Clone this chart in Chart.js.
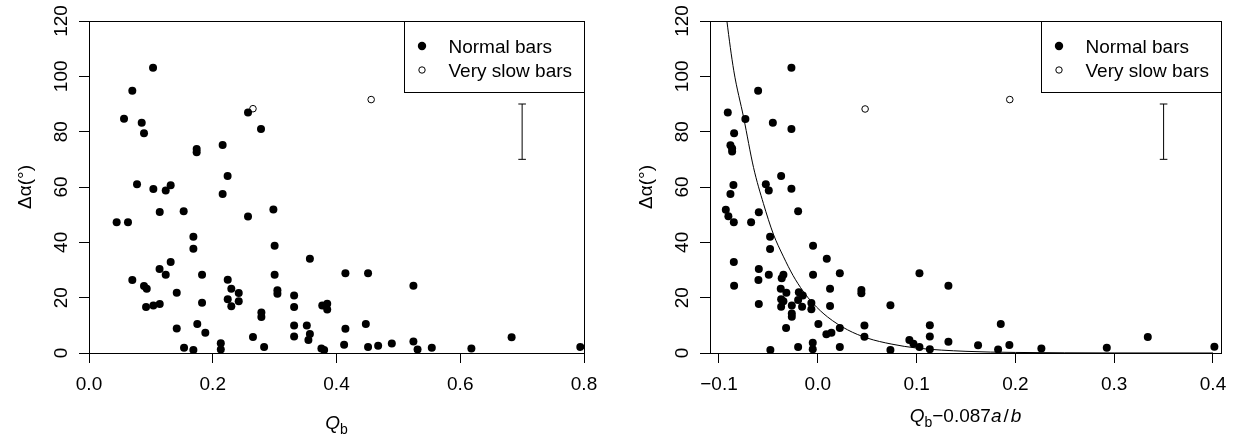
<!DOCTYPE html>
<html>
<head>
<meta charset="utf-8">
<script src="https://cdn.jsdelivr.net/npm/chart.js@4.4.0/dist/chart.umd.min.js"></script>
<style>
  body { margin: 0; background: #fff; }
  .panel { position: absolute; top: 0; width: 617px; height: 436px; }
</style>
</head>
<body>
<div class="panel" style="left:0"><canvas id="chartQb"></canvas></div>
<div class="panel" style="left:617px"><canvas id="chartAdj"></canvas></div>
<script>
// left panel: dalpha against Q_b
const qbNormal = [
  0.1035, 0.070, 0.0566, 0.0852, 0.0889, 0.0776, 0.104, 0.124, 0.132, 0.174,
  0.174, 0.216, 0.224, 0.216, 0.257, 0.278, 0.1143, 0.153, 0.257, 0.298,
  0.0447, 0.063, 0.1687, 0.1687, 0.300, 0.357, 0.132, 0.114, 0.124, 0.1827,
  0.300, 0.4144, 0.451, 0.5243, 0.070, 0.2242, 0.0889, 0.0933, 0.230, 0.242,
  0.3045, 0.3045, 0.1418, 0.2242, 0.242, 0.230, 0.1827, 0.0922, 0.104, 0.1143,
  0.3315, 0.3315, 0.377, 0.385, 0.385, 0.2786, 0.2786, 0.1418, 0.175, 0.188,
  0.3315, 0.352, 0.357, 0.3546, 0.3315, 0.4144, 0.4474, 0.265, 0.283, 0.213,
  0.213, 0.1536, 0.1687, 0.3756, 0.380, 0.4123, 0.451, 0.4673, 0.4894, 0.5243,
  0.531, 0.554, 0.618, 0.683, 0.794
];
const dalphaNormalA = [
  103.1, 94.8, 84.7, 83.2, 79.4, 61.0, 59.3, 58.7, 60.6, 73.7,
  72.6, 75.2, 64.0, 57.5, 86.9, 81.0, 51.0, 51.2, 49.3, 51.9,
  47.3, 47.3, 42.0, 37.7, 38.8, 34.1, 32.9, 30.4, 28.3, 28.3,
  28.3, 28.8, 28.8, 24.3, 26.4, 26.5, 24.2, 23.2, 23.2, 21.7,
  22.7, 21.4, 21.8, 19.4, 18.7, 16.9, 18.2, 16.6, 17.2, 17.7,
  20.8, 16.6, 17.2, 17.8, 15.7, 14.6, 13.0, 8.9, 10.5, 7.3,
  9.9, 9.9, 6.9, 4.7, 6.0, 8.8, 10.5, 5.8, 2.2, 3.5,
  1.3, 1.9, 1.1, 1.6, 1.1, 3.0, 2.2, 2.6, 3.4, 4.2,
  1.3, 1.9, 1.6, 5.7, 2.2
];
const qbSlow = [0.265, 0.456];
const dalphaSlowA = [88.3, 91.6];

// right panel: dalpha against Q_b - 0.087 a/b
const qbAdjNormal = [
  -0.0267, -0.0604, -0.0911, -0.0733, -0.0455, -0.0267, -0.0847, -0.0884, -0.0867, -0.0867,
  -0.0371, -0.0854, -0.0526, -0.0496, -0.0267, -0.0884, -0.0931, -0.0905, -0.085, -0.0675,
  -0.0597, -0.0199, -0.0483, -0.0483, -0.0048, 0.0091, -0.085, -0.0597, -0.0496, -0.0348,
  -0.0365, -0.0048, 0.0223, -0.0601, -0.0847, -0.0375, -0.0318, -0.0192, -0.0152, 0.0124,
  0.0441, 0.0441, -0.0371, -0.0199, -0.0348, -0.0597, -0.0065, -0.0263, -0.0371, -0.0159,
  -0.0065, 0.0124, 0.0735, -0.0263, -0.0263, 0.0006, -0.0321, 0.0223, 0.0472, 0.0472,
  0.0087, 0.0138, -0.0051, -0.0051, -0.0199, 0.0223, -0.048, 0.0735, 0.0927, 0.0968,
  0.1029, 0.1029, 0.1322, 0.1134, 0.1134, 0.1134, 0.1322, 0.1852, 0.1622, 0.1825,
  0.1939, 0.2263, 0.2925, 0.334, 0.4014
];
const dalphaNormalB = [
  103.1, 94.8, 86.9, 84.6, 83.2, 81.0, 79.4, 75.1, 73.9, 72.8,
  64.0, 60.7, 61.0, 58.7, 59.4, 57.5, 51.8, 49.4, 47.3, 47.3,
  50.9, 51.2, 42.0, 37.6, 38.8, 34.1, 32.9, 30.4, 28.3, 28.3,
  27.0, 28.3, 28.8, 26.4, 24.3, 23.2, 21.8, 22.0, 20.8, 23.2,
  22.8, 21.6, 19.4, 19.2, 18.7, 17.7, 18.1, 17.2, 16.7, 16.7,
  15.8, 17.0, 17.3, 14.3, 13.1, 10.5, 9.0, 9.0, 9.9, 5.9,
  6.8, 7.3, 3.7, 1.4, 2.2, 2.2, 1.1, 1.1, 4.7, 3.3,
  2.2, 28.8, 24.3, 10.0, 6.0, 1.4, 4.1, 10.5, 2.8, 1.3,
  2.9, 1.6, 1.9, 5.8, 2.3
];
const qbAdjSlow = [0.0479, 0.1943];
const dalphaSlowB = [88.2, 91.6];

// fitted curve
const curveX = [-0.1, -0.092, -0.085, -0.075, -0.065, -0.055, -0.045, -0.035, -0.025, -0.015,
  -0.005, 0.01, 0.03, 0.05, 0.075, 0.1, 0.15, 0.2, 0.25, 0.3, 0.4];
const curveY = [145, 120, 102, 85, 67, 54, 43, 35, 28, 22.4,
  18, 13, 8.4, 5.4, 3.2, 1.8, 0.6, 0.2, 0.07, 0.02, 0.0];

// error bar (typical uncertainty)
const errYRange = [70, 90];
const errXA = 0.7;
const errXB = 0.35;

const yTicks = [0, 20, 40, 60, 80, 100, 120];
const xTicksA = [0, 0.2, 0.4, 0.6, 0.8];
const xTickLabelsA = ["0.0", "0.2", "0.4", "0.6", "0.8"];
const xTicksB = [-0.1, 0, 0.1, 0.2, 0.3, 0.4];
const xTickLabelsB = ["\u22120.1", "0.0", "0.1", "0.2", "0.3", "0.4"];
const legendLabels = ["Normal bars", "Very slow bars"];

const FONT = "'Liberation Sans', Arial, sans-serif";
const FS = 19;

function pts(xs, ys) {
  return xs.map((x, i) => ({ x: x, y: ys[i] }));
}

function fontOf(p) {
  return (p.italic ? "italic " : "") + (p.sub ? 14 : FS) + "px " + FONT;
}

function drawParts(ctx, parts, cx, base) {
  const widths = parts.map((p) => {
    ctx.font = fontOf(p);
    return ctx.measureText(p.t).width + (p.pad || 0) * 2;
  });
  let x = cx - widths.reduce((a, b) => a + b, 0) / 2;
  ctx.textAlign = "left";
  ctx.textBaseline = "alphabetic";
  parts.forEach((p, i) => {
    ctx.font = fontOf(p);
    ctx.fillText(p.t, x + (p.pad || 0), base + (p.sub ? 5 : 0));
    x += widths[i];
  });
}

const rDecor = {
  id: "rDecor",
  afterDraw(chart, args, o) {
    const ctx = chart.ctx;
    const a = chart.chartArea;
    const xs = chart.scales.x;
    const ys = chart.scales.y;
    ctx.save();
    ctx.strokeStyle = "#000";
    ctx.fillStyle = "#000";
    ctx.lineWidth = 1;
    ctx.strokeRect(Math.round(a.left) + 0.5, Math.round(a.top) + 0.5,
      Math.round(a.right - a.left), Math.round(a.bottom - a.top));

    // tick labels
    ctx.font = FS + "px " + FONT;
    ctx.textAlign = "center";
    ctx.textBaseline = "alphabetic";
    o.xTicks.forEach((v, i) => {
      ctx.fillText(o.xLabels[i], xs.getPixelForValue(v), a.bottom + 37);
    });
    yTicks.forEach((v) => {
      ctx.save();
      ctx.translate(a.left - 22, ys.getPixelForValue(v));
      ctx.rotate(-Math.PI / 2);
      ctx.fillText(String(v), 0, 0);
      ctx.restore();
    });

    // axis titles
    ctx.save();
    ctx.translate(a.left - 58, (a.top + a.bottom) / 2);
    ctx.rotate(-Math.PI / 2);
    ctx.textAlign = "center";
    ctx.fillText("\u0394\u03b1(\u00b0)", 0, 0);
    ctx.restore();
    drawParts(ctx, o.xTitle, (a.left + a.right) / 2, o.xTitleBase);

    // legend
    const lw = 180, lh = 71;
    const lx = Math.round(a.right - lw), ly = Math.round(a.top);
    ctx.fillStyle = "#fff";
    ctx.fillRect(lx, ly, lw, lh);
    ctx.strokeRect(lx + 0.5, ly + 0.5, lw, lh);
    ctx.fillStyle = "#000";
    ctx.beginPath();
    ctx.arc(lx + 18, ly + 25, 4.2, 0, Math.PI * 2);
    ctx.fill();
    ctx.beginPath();
    ctx.arc(lx + 18, ly + 49, 3.2, 0, Math.PI * 2);
    ctx.stroke();
    ctx.font = FS + "px " + FONT;
    ctx.textAlign = "left";
    ctx.fillText(legendLabels[0], lx + 44.5, ly + 25 + 7);
    ctx.fillText(legendLabels[1], lx + 44.5, ly + 49 + 7);
    ctx.restore();
  }
};

function makePanel(id, cfg) {
  const datasets = [
    {
      label: legendLabels[0],
      data: pts(cfg.normX, cfg.normY),
      pointRadius: 4,
      pointBackgroundColor: "#000",
      pointBorderWidth: 0,
      showLine: false
    },
    {
      label: legendLabels[1],
      data: pts(cfg.slowX, cfg.slowY),
      pointRadius: 3.3,
      pointBackgroundColor: "#fff",
      pointBorderColor: "#000",
      pointBorderWidth: 1,
      showLine: false
    },
    {
      type: "line",
      data: errYRange.map((y) => ({ x: cfg.errX, y: y })),
      borderColor: "#000",
      borderWidth: 1,
      pointStyle: "line",
      pointRadius: 3.8,
      pointBorderWidth: 1,
      pointBorderColor: "#000"
    }
  ];
  if (cfg.curve) {
    datasets.push({
      type: "line",
      data: pts(curveX, curveY),
      borderColor: "#000",
      borderWidth: 1,
      pointRadius: 0,
      cubicInterpolationMode: "monotone"
    });
  }
  return new Chart(document.getElementById(id), {
    type: "scatter",
    data: { datasets: datasets },
    options: {
      responsive: true,
      maintainAspectRatio: false,
      animation: false,
      devicePixelRatio: 1,
      layout: { padding: { left: 0, top: 21, right: cfg.padRight, bottom: 0 } },
      plugins: {
        legend: { display: false },
        tooltip: { enabled: false },
        rDecor: { xTicks: cfg.xTicks, xLabels: cfg.xLabels, xTitle: cfg.xTitle, xTitleBase: cfg.xTitleBase }
      },
      scales: {
        x: {
          type: "linear",
          min: cfg.xMin,
          max: cfg.xMax,
          afterBuildTicks: (s) => { s.ticks = cfg.xTicks.map((v) => ({ value: v })); },
          afterFit: (s) => { s.height = 83; },
          ticks: { display: false },
          grid: { display: true, drawOnChartArea: false, drawTicks: true, tickLength: 10, color: "#000", lineWidth: 1 },
          border: { display: true, color: "#000", width: 1 }
        },
        y: {
          type: "linear",
          min: 0,
          max: 120,
          afterBuildTicks: (s) => { s.ticks = yTicks.map((v) => ({ value: v })); },
          afterFit: (s) => { s.width = cfg.yWidth; },
          ticks: { display: false },
          grid: { display: true, drawOnChartArea: false, drawTicks: true, tickLength: 10, color: "#000", lineWidth: 1 },
          border: { display: true, color: "#000", width: 1 }
        }
      }
    },
    plugins: [rDecor]
  });
}

makePanel("chartQb", {
  normX: qbNormal, normY: dalphaNormalA,
  slowX: qbSlow, slowY: dalphaSlowA,
  errX: errXA, curve: false,
  xMin: 0, xMax: 0.8, xTicks: xTicksA, xLabels: xTickLabelsA,
  yWidth: 89, padRight: 33,
  xTitle: [{ t: "Q", italic: true }, { t: "b", sub: true }],
  xTitleBase: 429
});

makePanel("chartAdj", {
  normX: qbAdjNormal, normY: dalphaNormalB,
  slowX: qbAdjSlow, slowY: dalphaSlowB,
  errX: errXB, curve: true,
  xMin: -0.1091, xMax: 0.4081, xTicks: xTicksB, xLabels: xTickLabelsB,
  yWidth: 93, padRight: 13,
  xTitle: [
    { t: "Q", italic: true }, { t: "b", sub: true }, { t: "\u22120.087" },
    { t: "a", italic: true }, { t: "/", pad: 2 }, { t: "b", italic: true }
  ],
  xTitleBase: 422
});
</script>
</body>
</html>
